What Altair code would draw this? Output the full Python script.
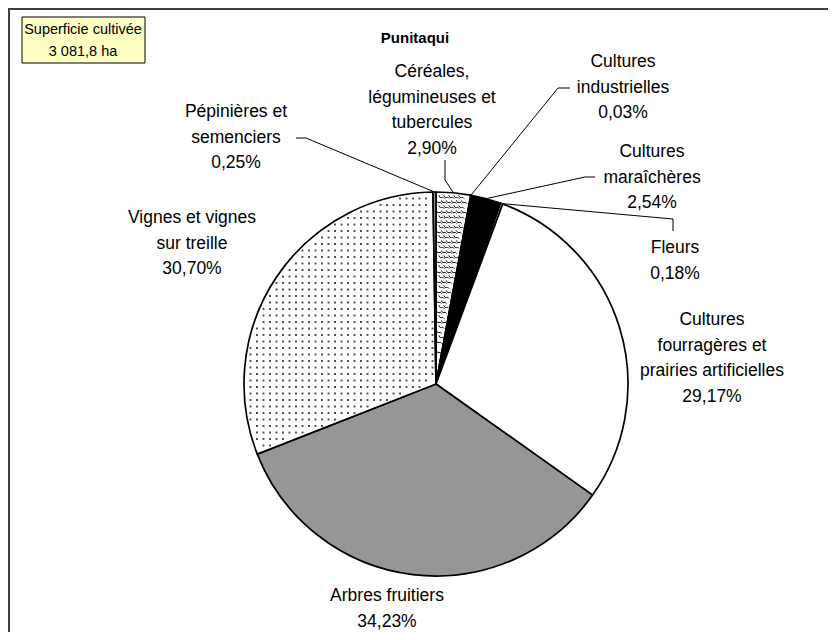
import math
import altair as alt
import pandas as pd
import numpy as np

# ---------------- data ----------------
categories = [
    "Céréales, légumineuses et tubercules",
    "Cultures industrielles",
    "Cultures maraîchères",
    "Fleurs",
    "Cultures fourragères et prairies artificielles",
    "Arbres fruitiers",
    "Vignes et vignes sur treille",
    "Pépinières et semenciers",
]
shares = [2.90, 0.03, 2.54, 0.18, 29.17, 34.23, 30.70, 0.25]
label_names = [
    "Céréales,\nlégumineuses et\ntubercules",
    "Cultures\nindustrielles",
    "Cultures\nmaraîchères",
    "Fleurs",
    "Cultures\nfourragères et\nprairies artificielles",
    "Arbres fruitiers",
    "Vignes et vignes\nsur treille",
    "Pépinières et\nsemenciers",
]
pct_labels = ["2,90%", "0,03%", "2,54%", "0,18%", "29,17%", "34,23%", "30,70%", "0,25%"]
title_text = "Punitaqui"
box_lines = "Superficie cultivée\n3 081,8 ha"

# ---------------- styles / layout ----------------
fills = ["#ffffff", "#ffffff", "#000000", "#ffffff", "#ffffff", "#969696", "#ffffff", "#9a9a9a"]
W, H = 820, 624
CX, CY, R = 428, 376, 192
FONT = "Liberation Sans"

# label block positions: centre x, first-line y (chart px)
label_pos = [(424, 64), (615, 54), (644, 144), (667, 240), (704, 312), (379, 588), (184, 210), (228, 104)]
# leader lines: label-side points (chart px), pie-side point computed from data
leader_pts = {
    0: [(437, 152), (437, 172)],
    1: [(562, 80), (550, 80)],
    2: [(587, 169), (577, 169)],
    3: [(665, 223), (665, 211)],
    7: [(288, 130), (298, 130)],
}

df = pd.DataFrame({
    "cat": categories,
    "share": shares,
    "idx": list(range(len(categories))),
    "label": [f"{n}\n{p}" for n, p in zip(label_names, pct_labels)],
    "lx": [p[0] for p in label_pos],
    "ly": [p[1] for p in label_pos],
})

cum = np.cumsum([0] + shares)
total = cum[-1]

def polar(frac, r):
    a = 2 * math.pi * frac
    return CX + r * math.sin(a), CY - r * math.cos(a)

rows = []
for i, pts in leader_pts.items():
    mid = (cum[i] + cum[i + 1]) / 2 / total
    px, py = polar(mid, R)
    seq = pts + [(px, py)]
    for k, (x, y) in enumerate(seq):
        rows.append({"seg": i, "k": k, "x": x, "y": y})
leaders = pd.DataFrame(rows)

def texture(slice_i, step, margin_a, margin_r, offset_rows=False):
    a0 = cum[slice_i] / total * 2 * math.pi
    a1 = cum[slice_i + 1] / total * 2 * math.pi
    out = []
    for j, gy in enumerate(np.arange(CY - R, CY + R, step)):
        shift = step / 2 if (offset_rows and j % 2) else 0
        for gx in np.arange(CX - R + shift, CX + R, step):
            dx, dy = gx - CX, gy - CY
            r = math.hypot(dx, dy)
            if r > R - margin_r or r < 6:
                continue
            a = math.atan2(dx, -dy) % (2 * math.pi)
            if a0 + margin_a / r < a < a1 - margin_a / r:
                out.append({"x": gx, "y": gy})
    return pd.DataFrame(out)

dots = texture(6, 6.5, 2.5, 3)
scales = texture(0, 5, 2.5, 3, offset_rows=True)

pie = alt.Chart(df).mark_arc(radius=R, stroke="black", strokeWidth=1.7, strokeJoin="round").encode(
    theta=alt.Theta("share:Q", stack=True),
    color=alt.Color("cat:N", scale=alt.Scale(domain=categories, range=fills), legend=None),
    order=alt.Order("idx:Q"),
    x=alt.value(CX),
    y=alt.value(CY),
)

dot_layer = alt.Chart(dots).mark_square(size=3.5, color="#444444", opacity=1).encode(
    x=alt.X("x:Q", scale=None), y=alt.Y("y:Q", scale=None)
)

scale_layer = alt.Chart(scales).mark_point(
    shape="M-1,-0.6 Q-0.5,0.6 0,0.2 Q0.5,-0.2 1,0.6", filled=False, size=30,
    stroke="black", strokeWidth=0.9, opacity=1
).encode(x=alt.X("x:Q", scale=None), y=alt.Y("y:Q", scale=None))

lead = alt.Chart(leaders).mark_line(color="black", strokeWidth=1).encode(
    x=alt.X("x:Q", scale=None), y=alt.Y("y:Q", scale=None),
    detail="seg:N", order="k:Q",
)

labels = alt.Chart(df).mark_text(
    font=FONT, fontSize=17.5, lineBreak="\n", lineHeight=25.5, align="center", baseline="middle", color="black"
).encode(x=alt.X("lx:Q", scale=None), y=alt.Y("ly:Q", scale=None), text="label:N")

title = alt.Chart(pd.DataFrame({"t": [title_text]})).mark_text(
    font=FONT, fontSize=15, fontWeight="bold", align="center", baseline="middle"
).encode(x=alt.value(407), y=alt.value(30), text="t:N")

box = alt.Chart(pd.DataFrame({"t": [box_lines]})).mark_rect(
    fill="#ffffc4", stroke="black", strokeWidth=1
).encode(x=alt.value(14), x2=alt.value(137), y=alt.value(9), y2=alt.value(55))

box_text = alt.Chart(pd.DataFrame({"t": [box_lines]})).mark_text(
    font=FONT, fontSize=14.5, lineBreak="\n", lineHeight=22, align="center", baseline="middle"
).encode(x=alt.value(75), y=alt.value(22), text="t:N")

frame_top = alt.Chart(pd.DataFrame({"a": [0]})).mark_rule(color="#404040", strokeWidth=2).encode(
    x=alt.value(0), x2=alt.value(W), y=alt.value(1)
)
frame_left = alt.Chart(pd.DataFrame({"a": [0]})).mark_rule(color="#404040", strokeWidth=2).encode(
    x=alt.value(1), y=alt.value(0), y2=alt.value(H)
)

chart = alt.layer(
    pie, dot_layer, scale_layer, lead, labels, title, box, box_text, frame_top, frame_left
).properties(
    width=W, height=H, padding=0, autosize=alt.AutoSizeParams(type="none")
).configure_view(stroke=None)

chart.save("out.html", embed_options={"renderer": "svg", "actions": False})
